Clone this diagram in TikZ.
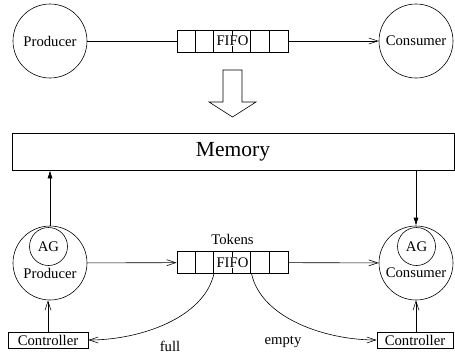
\documentclass[tikz,border=0pt]{standalone}
\usepackage{fontspec}
\setmainfont{Liberation Serif}
\usetikzlibrary{arrows.meta}
\begin{document}
\begin{tikzpicture}[x=1pt,y=-1pt, line width=0.6pt,
  every node/.style={font=\fontsize{14.7}{16}\selectfont},
  circ/.style={draw,circle,minimum size=74pt,inner sep=0pt},
  agc/.style={draw,circle,minimum size=38pt,inner sep=0pt},
  box/.style={draw,rectangle,inner sep=0pt},
  fifobox/.style={box,minimum width=111pt,minimum height=22pt},
  fifotext/.style={fill=white,inner sep=0.5pt},
  oa/.style={-{Straight Barb[length=9pt,width=6pt]}},
  fa/.style={-{Latex[length=8pt,width=5pt]}}]
\useasboundingbox (0,0) rectangle (455,360);
% top
\node[circ] (prodT) at (50,41) {Producer};
\node[circ] (consT) at (416,41) {Consumer};
\node[fifobox] (fifoT) at (232.5,41) {};
\foreach \i in {1,...,5}
  \draw ([xshift=\i*18.5pt]fifoT.north west) -- ([xshift=\i*18.5pt]fifoT.south west);
\node[fifotext] (fifoTl) at (232.5,41) {FIFO};
\draw (prodT) -- (fifoT);
\draw[oa] (fifoT) -- (consT);
% hollow arrow
\draw (223,70) -- (242,70) -- (242,102) -- (256,102) -- (232.5,117) -- (209,102) -- (223,102) -- cycle;
% memory
\node[box,minimum width=442pt,minimum height=37pt,font=\fontsize{21.5}{24}\selectfont] (mem) at (233,151.5) {Memory};
% bottom
\node[circ] (prodB) at (50,263) {};
\node[agc] (agP) at (48.5,246.5) {AG};
\node (prodBl) at (50,273) {Producer};
\node[circ] (consB) at (416,263) {};
\node[agc] (agC) at (416.5,246.5) {AG};
\node (consBl) at (416,273) {Consumer};
\draw[fa] (prodB.north) -- (prodB.north |- mem.south);
\draw[fa] (mem.south -| consB.north) -- (consB.north);
\node[fifobox] (fifoB) at (232.5,262.5) {};
\foreach \i in {1,...,5}
  \draw ([xshift=\i*18.5pt]fifoB.north west) -- ([xshift=\i*18.5pt]fifoB.south west);
\node[fifotext] (fifoBl) at (232.5,262.5) {FIFO};
\node (tok) at (232.5,239) {Tokens};
\draw[oa] (prodB) -- (fifoB);
\draw[oa] (fifoB) -- (consB);
\node[box,minimum width=80pt,minimum height=16pt] (ctrlL) at (48,340) {Controller};
\node[box,minimum width=76pt,minimum height=16pt] (ctrlR) at (415,340) {Controller};
\draw[oa] (ctrlL.north) -- (ctrlL.north |- prodB.south);
\draw[oa] (ctrlR.north -| consB.south) -- (consB.south);
\coordinate (fl) at (214,273.5);
\coordinate (fr) at (251.5,273.5);
\draw[oa] (fl) .. controls (204,318) and (140,340) .. (ctrlL.east);
\draw[oa] (fr) .. controls (261,318) and (325,340) .. (ctrlR.west);
\node (full) at (170,346) {full};
\node (empty) at (283,342) {empty};
\end{tikzpicture}
\end{document}
